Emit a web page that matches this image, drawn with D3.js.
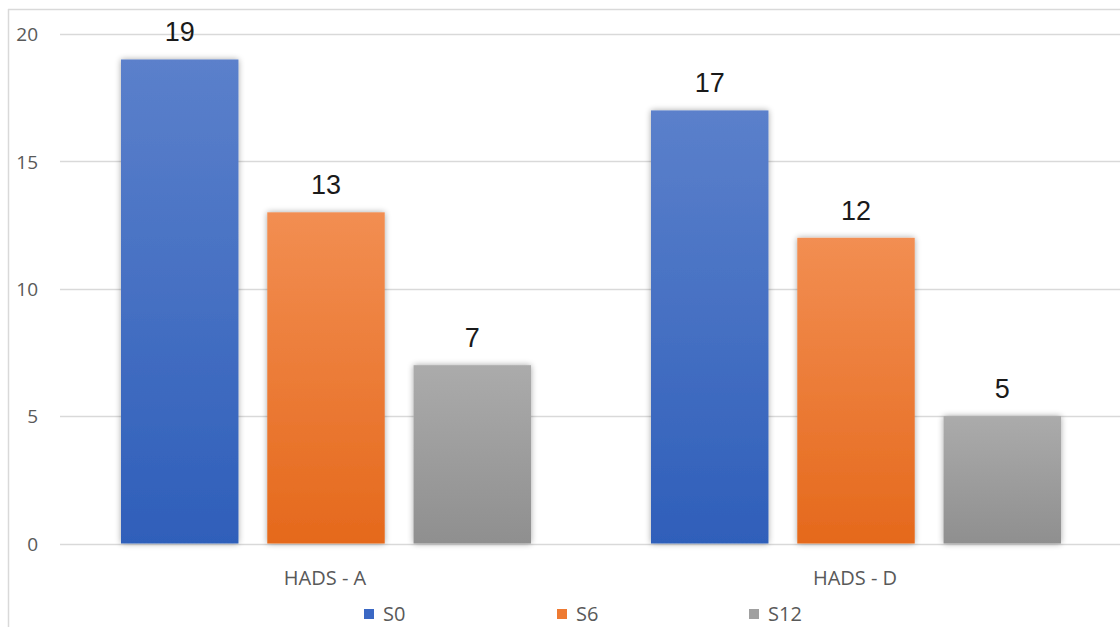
<!DOCTYPE html>
<html>
<head>
<meta charset="utf-8">
<script src="https://cdn.jsdelivr.net/npm/d3@7"></script>
<style>
  html, body { margin: 0; padding: 0; background: #fff; }
  svg { display: block; }
</style>
</head>
<body>
<svg id="chart" width="1120" height="627"></svg>
<script>
// Scores per scale at each time point
const categories = ["HADS - A", "HADS - D"];
const seriesNames = ["S0", "S6", "S12"];
const valuesS0 = [19, 17];
const valuesS6 = [13, 12];
const valuesS12 = [7, 5];
const yTicks = [0, 5, 10, 15, 20];

const seriesValues = [valuesS0, valuesS6, valuesS12];
const colors = {
  S0:  { top: "#5b80cb", bottom: "#2f5fba", legend: "#3b68c4" },
  S6:  { top: "#f28e52", bottom: "#e5691c", legend: "#ee7a32" },
  S12: { top: "#ababab", bottom: "#8f8f8f", legend: "#a0a0a0" }
};

const svg = d3.select("#chart");
const W = 1120, H = 627;
const plot = { left: 60, right: 1120, top: 34, bottom: 543.5 };
const labelFont = "Open Sans, sans-serif";

// outer frame (left and top edges visible)
svg.append("line").attr("x1", 8.5).attr("x2", 8.5).attr("y1", 9).attr("y2", H)
  .attr("stroke", "#d9d9d9").attr("stroke-width", 1.5);
svg.append("line").attr("x1", 8).attr("x2", W).attr("y1", 9.5).attr("y2", 9.5)
  .attr("stroke", "#d9d9d9").attr("stroke-width", 1.5);

const defs = svg.append("defs");
seriesNames.forEach(s => {
  const g = defs.append("linearGradient").attr("id", "grad-" + s)
    .attr("x1", 0).attr("x2", 0).attr("y1", 0).attr("y2", 1);
  g.append("stop").attr("offset", "0%").attr("stop-color", colors[s].top);
  g.append("stop").attr("offset", "100%").attr("stop-color", colors[s].bottom);
});
const shadow = defs.append("filter").attr("id", "barShadow")
  .attr("x", "-20%").attr("y", "-10%").attr("width", "140%").attr("height", "120%");
shadow.append("feGaussianBlur").attr("in", "SourceAlpha").attr("stdDeviation", 3).attr("result", "blur");
shadow.append("feComponentTransfer").append("feFuncA").attr("type", "linear").attr("slope", 0.35);
const merge = shadow.append("feMerge");
merge.append("feMergeNode");
merge.append("feMergeNode").attr("in", "SourceGraphic");

const y = d3.scaleLinear().domain([0, 20]).range([plot.bottom, plot.top]);
const x0 = d3.scaleBand().domain(categories).range([plot.left, plot.right]);
const x1 = d3.scaleBand().domain(seriesNames)
  .range([61, x0.bandwidth() - 59]).paddingInner(0.197).paddingOuter(0);

// horizontal gridlines
svg.append("g").selectAll("line").data(yTicks).join("line")
  .attr("x1", plot.left).attr("x2", plot.right)
  .attr("y1", d => Math.round(y(d)) + 0.5).attr("y2", d => Math.round(y(d)) + 0.5)
  .attr("stroke", "#d9d9d9").attr("stroke-width", 1.3);

// y-axis labels
const yAxis = d3.axisLeft(y).tickValues(yTicks).tickSize(0).tickPadding(0);
const gy = svg.append("g").attr("transform", "translate(38,0)").call(yAxis);
gy.select(".domain").remove();
gy.selectAll("text").attr("font-family", labelFont)
  .attr("font-size", 19).attr("fill", "#595959").attr("dy", "0.35em");

// bars
const groups = svg.append("g").selectAll("g").data(categories).join("g")
  .attr("transform", d => `translate(${x0(d)},0)`);

groups.each(function (c, ci) {
  const g = d3.select(this);
  const data = seriesNames.map((s, si) => ({ s, v: seriesValues[si][ci] }));
  g.selectAll("rect").data(data).join("rect")
    .attr("x", d => x1(d.s)).attr("width", x1.bandwidth())
    .attr("y", d => y(d.v)).attr("height", d => y(0) - y(d.v))
    .attr("fill", d => `url(#grad-${d.s})`)
    .attr("filter", "url(#barShadow)");
  g.selectAll("text.val").data(data).join("text").attr("class", "val")
    .attr("x", d => x1(d.s) + x1.bandwidth() / 2)
    .attr("y", d => y(d.v) - 18)
    .attr("text-anchor", "middle")
    .attr("font-family", "Liberation Sans, Arial, sans-serif")
    .attr("font-size", 27).attr("fill", "#1a1a1a")
    .text(d => d.v);
});

// category labels
const xAxis = d3.axisBottom(x0).tickSize(0).tickPadding(0);
const gx = svg.append("g").attr("transform", "translate(0,585)").call(xAxis);
gx.select(".domain").remove();
gx.selectAll("text").attr("dy", 0).attr("font-family", labelFont)
  .attr("font-size", 20).attr("fill", "#595959");

// legend
const legendX = [364, 557, 749];
const legend = svg.append("g").selectAll("g").data(seriesNames).join("g")
  .attr("transform", (d, i) => `translate(${legendX[i]},609)`);
legend.append("rect").attr("width", 10).attr("height", 10)
  .attr("fill", d => colors[d].legend);
legend.append("text").attr("x", 19).attr("y", 12)
  .attr("font-family", labelFont).attr("font-size", 20)
  .attr("fill", "#595959").text(d => d);
</script>
</body>
</html>
